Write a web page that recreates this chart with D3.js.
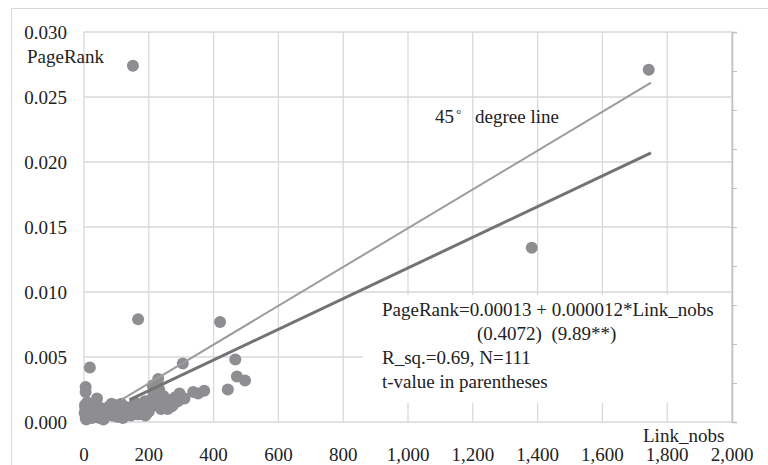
<!DOCTYPE html>
<html>
<head>
<meta charset="utf-8">
<script src="https://cdn.jsdelivr.net/npm/d3@7"></script>
<style>
  body { margin: 0; background: #fff; }
</style>
</head>
<body>
<div id="chart"></div>
<script>
// Link_nobs values of the observations
const linkNobs = [
  151, 1743, 1382, 167, 420, 18, 305, 467, 472, 497, 444, 337, 352, 371, 229,
  5, 5, 40, 287, 266, 189,
  3, 4, 6, 2, 8, 5, 7, 12, 15, 20, 14, 10,
  30, 35, 45, 50, 42, 38,
  55, 62, 70, 75, 66, 78, 58,
  85, 92, 98, 105, 88, 100, 95,
  112, 118, 125, 130, 136, 115, 128,
  142, 150, 158, 165, 148, 160,
  172, 180, 188, 195, 176, 198,
  205, 210, 215, 220, 225, 232, 238, 212, 218,
  245, 255, 262, 275, 282, 295,
  25, 65, 110, 135, 155, 185, 200, 235, 250, 270,
  22, 48, 82, 120, 145, 170, 240, 290, 310, 258, 10, 60, 102
];
// PageRank values, same order
const pageRank = [
  0.0274, 0.0271, 0.0134, 0.0079, 0.0077, 0.0042, 0.0045, 0.0048, 0.0035, 0.0032, 0.0025, 0.0023, 0.0022, 0.0024, 0.0033,
  0.0027, 0.0023, 0.0018, 0.0019, 0.0015, 0.0005,
  0.0013, 0.0011, 0.0009, 0.0007, 0.0005, 0.0003, 0.0002, 0.0010, 0.0006, 0.0004, 0.0008, 0.0012,
  0.0009, 0.0006, 0.0004, 0.0011, 0.0007, 0.0013,
  0.0008, 0.0005, 0.0010, 0.0006, 0.0004, 0.0012, 0.0007,
  0.0014, 0.0009, 0.0006, 0.0011, 0.0005, 0.0008, 0.0013,
  0.0010, 0.0007, 0.0012, 0.0005, 0.0009, 0.0014, 0.0006,
  0.0011, 0.0008, 0.0015, 0.0006, 0.0012, 0.0009,
  0.0013, 0.0010, 0.0016, 0.0007, 0.0011, 0.0012,
  0.0017, 0.0012, 0.0022, 0.0014, 0.0019, 0.0025, 0.0010, 0.0028, 0.0020,
  0.0020, 0.0015, 0.0017, 0.0013, 0.0019, 0.0022,
  0.0003, 0.0009, 0.0004, 0.0008, 0.0010, 0.0009, 0.0008, 0.0013, 0.0011, 0.0012,
  0.0005, 0.0003, 0.0006, 0.0003, 0.0005, 0.0006, 0.0016, 0.0016, 0.0018, 0.0010, 0.0015, 0.0002, 0.0004
];

const xTicks = [0, 200, 400, 600, 800, 1000, 1200, 1400, 1600, 1800, 2000];
const yTicks = [0, 0.005, 0.010, 0.015, 0.020, 0.025, 0.030];

// line end points [Link_nobs, PageRank]
const line45 = [[115, 0.0017], [1750, 0.0261]];
const regLine = [[140, 0.0017], [1750, 0.0207]];

const eqLines = [
  "PageRank=0.00013 + 0.000012*Link_nobs",
  "(0.4072)  (9.89**)",
  "R_sq.=0.69, N=111",
  "t-value in parentheses"
];

const width = 768, height = 465;
const margin = { left: 84, right: 36, top: 32, bottom: 43 };
const FONT = "Liberation Serif";
const INK = "#222";

const svg = d3.select("#chart").append("svg")
  .attr("width", width)
  .attr("height", height);

function label(sel) {
  return sel.attr("font-family", FONT).attr("font-size", 19).attr("fill", INK);
}

// outer frame
svg.append("rect")
  .attr("x", 11.5).attr("y", 8.5)
  .attr("width", 800).attr("height", 500)
  .attr("fill", "none")
  .attr("stroke", "#d9d9d9");

const x = d3.scaleLinear().domain([0, 2000]).range([margin.left, width - margin.right]);
const y = d3.scaleLinear().domain([0, 0.030]).range([height - margin.bottom, margin.top]);

// grid
svg.append("g")
  .selectAll("line")
  .data(xTicks)
  .join("line")
  .attr("x1", d => x(d)).attr("x2", d => x(d))
  .attr("y1", y(0.030)).attr("y2", y(0))
  .attr("stroke", "#d9d9d9")
  .attr("stroke-width", 1.3);

svg.append("g")
  .selectAll("line")
  .data(yTicks)
  .join("line")
  .attr("x1", x(0)).attr("x2", x(2000))
  .attr("y1", d => y(d)).attr("y2", d => y(d))
  .attr("stroke", "#d9d9d9")
  .attr("stroke-width", 1.3);

// secondary right axis (no labels)
const y2 = d3.scaleLinear().domain([0, 10]).range([y(0), y(0.030)]);
const rightAxis = svg.append("g")
  .attr("transform", `translate(${x(2000)},0)`)
  .call(d3.axisRight(y2).ticks(10).tickSize(5).tickFormat(""));
rightAxis.select(".domain").attr("stroke", "#bfbfbf").attr("stroke-width", 1.5);
rightAxis.selectAll(".tick line").attr("stroke", "#bfbfbf");

// tick labels
svg.append("g")
  .selectAll("text")
  .data(yTicks)
  .join("text")
  .call(label)
  .attr("x", 67)
  .attr("y", d => y(d))
  .attr("dy", "0.35em")
  .attr("text-anchor", "end")
  .text(d3.format(".3f"));

svg.append("g")
  .selectAll("text")
  .data(xTicks)
  .join("text")
  .call(label)
  .attr("x", d => x(d))
  .attr("y", 461)
  .attr("text-anchor", "middle")
  .text(d3.format(","));

// text box covering grid
svg.append("rect")
  .attr("x", 363).attr("y", 295)
  .attr("width", x(2000) - 364).attr("height", 108)
  .attr("fill", "#fff");

// points
const pts = linkNobs.map((d, i) => [d, pageRank[i]]);
svg.append("g")
  .selectAll("circle")
  .data(pts)
  .join("circle")
  .attr("cx", d => x(d[0]))
  .attr("cy", d => y(d[1]))
  .attr("r", 6)
  .attr("fill", "#8e8e92");

// lines
const lineGen = d3.line().x(d => x(d[0])).y(d => y(d[1]));
svg.append("path")
  .attr("d", lineGen(line45))
  .attr("fill", "none")
  .attr("stroke", "#9c9c9c")
  .attr("stroke-width", 2);
svg.append("path")
  .attr("d", lineGen(regLine))
  .attr("fill", "none")
  .attr("stroke", "#737373")
  .attr("stroke-width", 3);

// labels
svg.append("text").call(label)
  .attr("x", 27).attr("y", 63)
  .text("PageRank");

svg.append("text").call(label)
  .attr("x", 643).attr("y", 442)
  .text("Link_nobs");

const t45 = svg.append("text").call(label)
  .attr("x", 435).attr("y", 123);
t45.append("tspan").text("45");
t45.append("tspan").attr("dx", 2).attr("dy", -5).attr("font-size", 13).text("°");
svg.append("text").call(label)
  .attr("x", 475).attr("y", 123)
  .text("degree line");

svg.append("g")
  .selectAll("text")
  .data(eqLines)
  .join("text")
  .call(label)
  .attr("x", (d, i) => i === 1 ? 477 : 382)
  .attr("y", (d, i) => 316 + i * 24)
  .style("white-space", "pre")
  .text(d => d);
</script>
</body>
</html>
